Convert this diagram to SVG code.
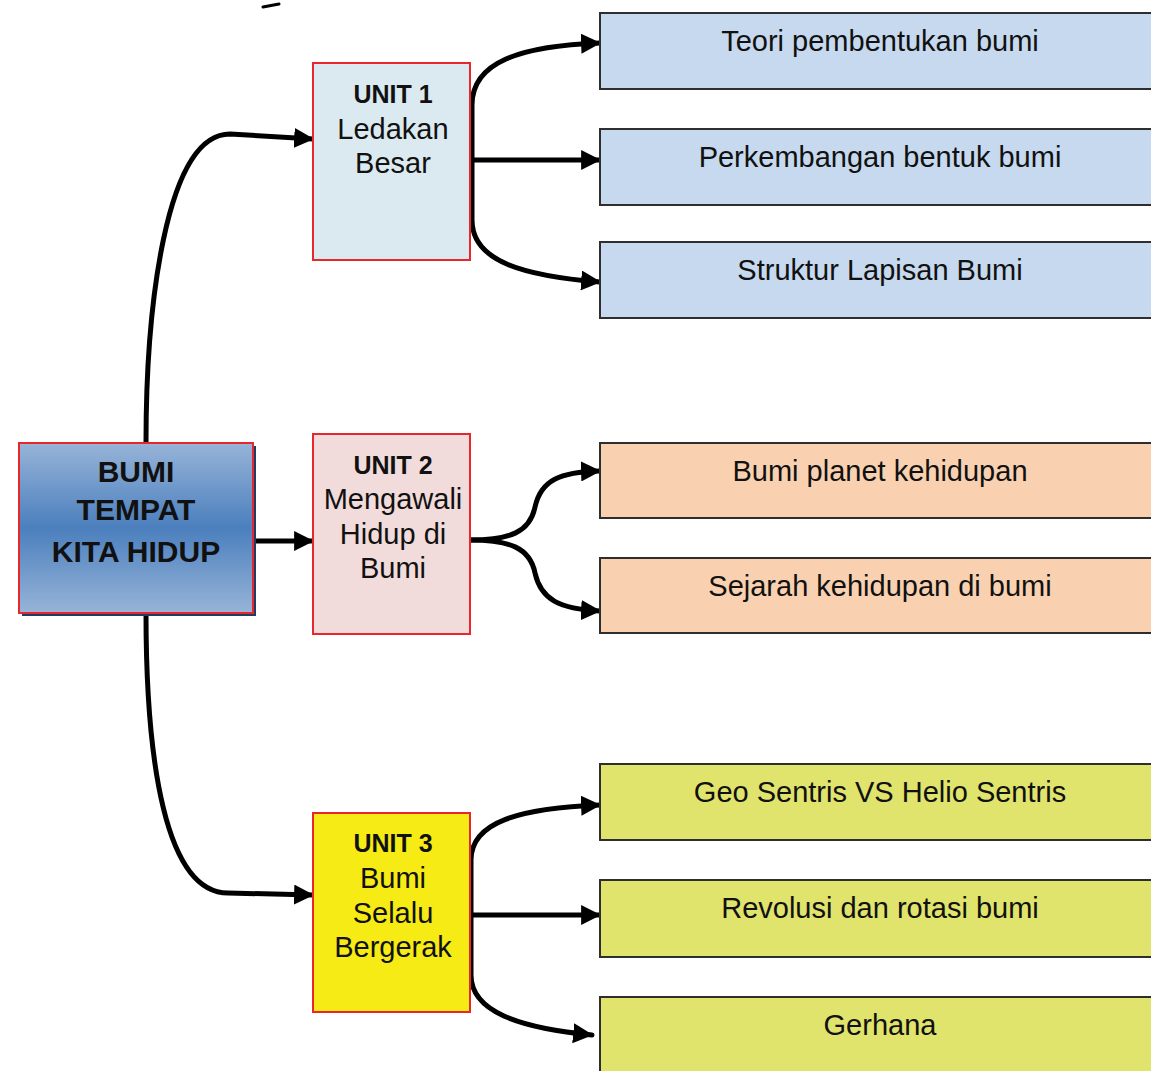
<svg xmlns="http://www.w3.org/2000/svg" width="1151" height="1071" viewBox="0 0 1151 1071">
<style>
text{font-family:"Liberation Sans",Arial,sans-serif;fill:#111;text-anchor:middle}
.h{font-weight:bold;font-size:25px}
.u{font-size:29px}
.m{font-weight:bold;font-size:30px}
.r{font-size:29px}
.unit{stroke:#e8272c;stroke-width:2}
.box{stroke:#2e2e2e;stroke-width:2}
.c{fill:none;stroke:#000;stroke-width:5;stroke-linecap:round;stroke-linejoin:round}
</style>
<defs>
<linearGradient id="g" x1="0" y1="0" x2="0" y2="1">
<stop offset="0" stop-color="#97b4d8"/>
<stop offset="0.5" stop-color="#4b7fbd"/>
<stop offset="1" stop-color="#97b4d8"/>
</linearGradient>
<marker id="a" markerUnits="userSpaceOnUse" markerWidth="20" markerHeight="20" viewBox="0 0 18 18" refX="17" refY="9" orient="auto">
<path d="M0,0 L18,9 L0,18 Z" fill="#000"/>
</marker>
</defs>
<rect width="1151" height="1071" fill="#fff"/>
<path d="M263,7 L279,4" stroke="#000" stroke-width="3" stroke-linecap="round" fill="none"/>

<g id="connectors">
<path class="c" d="M146,443 C146,310 165,134 230,134 L313,139" marker-end="url(#a)"/>
<path class="c" d="M253,541 L313,541" marker-end="url(#a)"/>
<path class="c" d="M146,613 C146,760 165,893 228,893 L313,895" marker-end="url(#a)"/>
<path class="c" d="M472,160 L472,105 C472,62 520,46 600,43" marker-end="url(#a)"/>
<path class="c" d="M472,160 L600,160" marker-end="url(#a)"/>
<path class="c" d="M472,160 L472,220 C472,262 525,276 600,282" marker-end="url(#a)"/>
<path class="c" d="M470,540 C510,540 530,532 535,507 C541,480 560,472 600,471" marker-end="url(#a)"/>
<path class="c" d="M470,540 C510,540 530,548 535,573 C541,600 560,609 600,611" marker-end="url(#a)"/>
<path class="c" d="M471,915 L471,860 C471,822 520,808 600,805" marker-end="url(#a)"/>
<path class="c" d="M471,915 L600,915" marker-end="url(#a)"/>
<path class="c" d="M471,915 L471,975 C471,1012 520,1028 592,1035" marker-end="url(#a)"/>
</g>

<g id="main">
<rect x="22" y="446" width="234" height="170" fill="#1f3b66"/>
<rect x="19" y="443" width="234" height="170" fill="url(#g)" class="unit"/>
<text class="m" x="136" y="482">BUMI</text>
<text class="m" x="136" y="520">TEMPAT</text>
<text class="m" x="136" y="562">KITA HIDUP</text>
</g>

<g id="unit1">
<rect x="313" y="63" width="157" height="197" fill="#dbe9f0" class="unit"/>
<text class="h" x="393" y="103">UNIT 1</text>
<text class="u" x="393" y="139">Ledakan</text>
<text class="u" x="393" y="173">Besar</text>
</g>

<g id="unit2">
<rect x="313" y="434" width="157" height="200" fill="#f2dcdb" class="unit"/>
<text class="h" x="393" y="474">UNIT 2</text>
<text class="u" x="393" y="509">Mengawali</text>
<text class="u" x="393" y="544">Hidup di</text>
<text class="u" x="393" y="578">Bumi</text>
</g>

<g id="unit3">
<rect x="313" y="813" width="157" height="199" fill="#f6eb14" class="unit"/>
<text class="h" x="393" y="852">UNIT 3</text>
<text class="u" x="393" y="888">Bumi</text>
<text class="u" x="393" y="923">Selalu</text>
<text class="u" x="393" y="957">Bergerak</text>
</g>

<g id="teori">
<rect x="600" y="13" width="560" height="76" fill="#c6d9ee" class="box"/>
<text class="r" x="880" y="51">Teori pembentukan bumi</text>
</g>
<g id="perkembangan">
<rect x="600" y="129" width="560" height="76" fill="#c6d9ee" class="box"/>
<text class="r" x="880" y="167">Perkembangan bentuk bumi</text>
</g>
<g id="struktur">
<rect x="600" y="242" width="560" height="76" fill="#c6d9ee" class="box"/>
<text class="r" x="880" y="280">Struktur Lapisan Bumi</text>
</g>

<g id="planet">
<rect x="600" y="443" width="560" height="75" fill="#f9d1b0" class="box"/>
<text class="r" x="880" y="481">Bumi planet kehidupan</text>
</g>
<g id="sejarah">
<rect x="600" y="558" width="560" height="75" fill="#f9d1b0" class="box"/>
<text class="r" x="880" y="596">Sejarah kehidupan di bumi</text>
</g>

<g id="geo">
<rect x="600" y="764" width="560" height="76" fill="#e0e46c" class="box"/>
<text class="r" x="880" y="802">Geo Sentris VS Helio Sentris</text>
</g>
<g id="revolusi">
<rect x="600" y="880" width="560" height="77" fill="#e0e46c" class="box"/>
<text class="r" x="880" y="918">Revolusi dan rotasi bumi</text>
</g>
<g id="gerhana">
<rect x="600" y="997" width="560" height="90" fill="#e0e46c" class="box"/>
<text class="r" x="880" y="1035">Gerhana</text>
</g>
</svg>
